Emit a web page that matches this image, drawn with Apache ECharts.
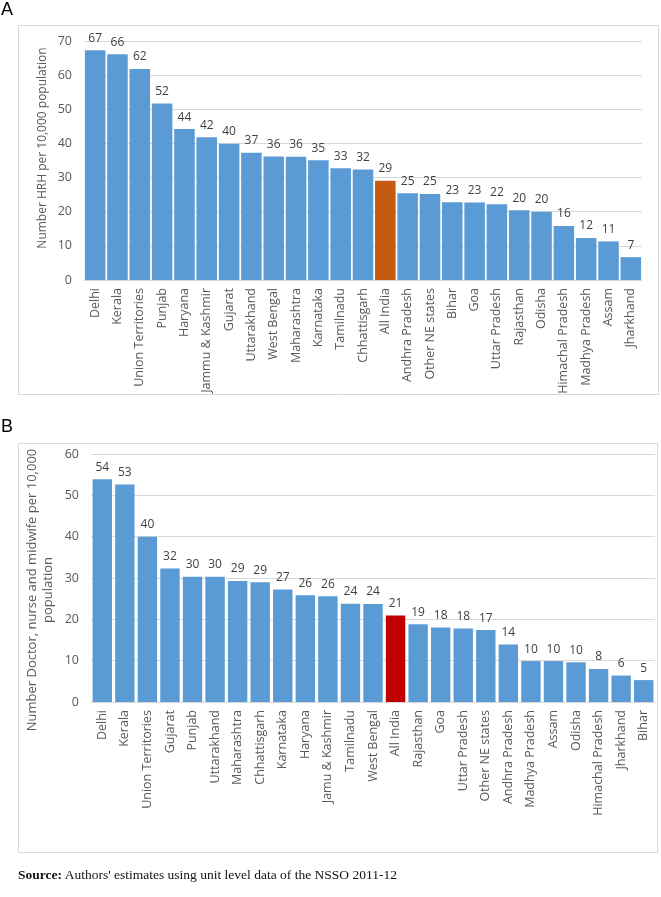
<!DOCTYPE html>
<html>
<head>
<meta charset="utf-8">
<script src="https://cdn.jsdelivr.net/npm/echarts@6/dist/echarts.min.js"></script>
<style>
html,body{margin:0;padding:0;background:#fff;}
#chart{width:661px;height:897px;}
#src{position:absolute;left:18px;top:867px;font-family:"Liberation Serif","DejaVu Serif",serif;font-size:13.5px;color:#111;}
</style>
</head>
<body>
<div id="chart"></div>
<div id="src"><b>Source:</b> Authors' estimates using unit level data of the NSSO 2011-12</div>
<script>
const categoriesA = ["Delhi","Kerala","Union Territories","Punjab","Haryana","Jammu & Kashmir","Gujarat","Uttarakhand","West Bengal","Maharashtra","Karnataka","Tamilnadu","Chhattisgarh","All India","Andhra Pradesh","Other NE states","Bihar","Goa","Uttar Pradesh","Rajasthan","Odisha","Himachal Pradesh","Madhya Pradesh","Assam","Jharkhand"];
const valuesA = [67.3,66.1,61.8,51.7,44.2,41.8,39.9,37.3,36.2,36.1,35.1,32.7,32.4,29.1,25.4,25.2,22.8,22.7,22.2,20.4,20.0,15.8,12.3,11.3,6.7];
const categoriesB = ["Delhi","Kerala","Union Territories","Gujarat","Punjab","Uttarakhand","Maharashtra","Chhattisgarh","Karnataka","Haryana","Jamu & Kashmir","Tamilnadu","West Bengal","All India","Rajasthan","Goa","Uttar Pradesh","Other NE states","Andhra Pradesh","Madhya Pradesh","Assam","Odisha","Himachal Pradesh","Jharkhand","Bihar"];
const valuesB = [53.9,52.6,40.0,32.3,30.3,30.3,29.3,29.0,27.2,25.8,25.6,23.8,23.7,20.9,18.8,18.0,17.8,17.4,13.9,9.9,9.9,9.6,8.0,6.4,5.3];
const ticksA = {min:0,max:70,interval:10};
const ticksB = {min:0,max:60,interval:10};
const titleA = "Number HRH per 10,000 population";
const titleB = "Number Doctor, nurse and midwife per 10,000\npopulation";

const BLUE = "#5B9BD5", ORANGE = "#C55A11", RED = "#C00000";
const font = "'Open Sans', sans-serif";
function mkData(cats, vals, hl){
  return vals.map((v,i)=>({value:v, itemStyle:{color: cats[i]==="All India" ? hl : BLUE}}));
}
function xAxis(idx, cats){
  return {type:'category', gridIndex:idx, data:cats,
    axisLine:{lineStyle:{color:'#D9D9D9'}}, axisTick:{show:false},
    axisLabel:{rotate:90, interval:0, margin:8, color:'#595959', fontFamily:font, fontSize:12.5}};
}
function yAxis(idx, t){
  return {type:'value', gridIndex:idx, min:t.min, max:t.max, interval:t.interval,
    axisLine:{show:false}, axisTick:{show:false},
    splitLine:{lineStyle:{color:'#D9D9D9'}},
    axisLabel:{color:'#595959', fontFamily:font, fontSize:12.5, margin:12}};
}
function series(idx, cats, vals, hl, gap){
  return {type:'bar', xAxisIndex:idx, yAxisIndex:idx, data:mkData(cats,vals,hl),
    barCategoryGap:gap,
    label:{show:true, position:'top', distance:6, color:'#404040', fontFamily:font, fontSize:12,
      formatter:p=>Math.round(p.value)}};
}
const chart = echarts.init(document.getElementById('chart'), null, {renderer:'canvas'});
chart.setOption({
  animation:false,
  grid:[
    {left:84, right:19, top:41, height:239},
    {left:91, right:6, top:454, height:248}
  ],
  xAxis:[xAxis(0,categoriesA), xAxis(1,categoriesB)],
  yAxis:[yAxis(0,ticksA), yAxis(1,ticksB)],
  series:[series(0,categoriesA,valuesA,ORANGE,'8%'), series(1,categoriesB,valuesB,RED,'14%')],
  graphic:[
    {type:'rect', shape:{x:18.5,y:25.5,width:640,height:369}, style:{fill:'none', stroke:'#D9D9D9', lineWidth:1}, z:-1},
    {type:'rect', shape:{x:18.5,y:443.5,width:639,height:409}, style:{fill:'none', stroke:'#D9D9D9', lineWidth:1}, z:-1},
    {type:'text', x:1, y:1, style:{text:'A', font:"18px 'Liberation Sans', sans-serif", fill:'#000'}},
    {type:'text', x:1, y:418, style:{text:'B', font:"18px 'Liberation Sans', sans-serif", fill:'#000'}},
    {type:'text', x:43, y:148, rotation:Math.PI/2, style:{text:titleA, font:"12px 'Open Sans', sans-serif", fill:'#595959', align:'center', verticalAlign:'middle'}},
    {type:'text', x:40, y:590, rotation:Math.PI/2, style:{text:titleB, font:"13px 'Open Sans', sans-serif", fill:'#595959', align:'center', verticalAlign:'middle', lineHeight:16}}
  ]
});
</script>
</body>
</html>
